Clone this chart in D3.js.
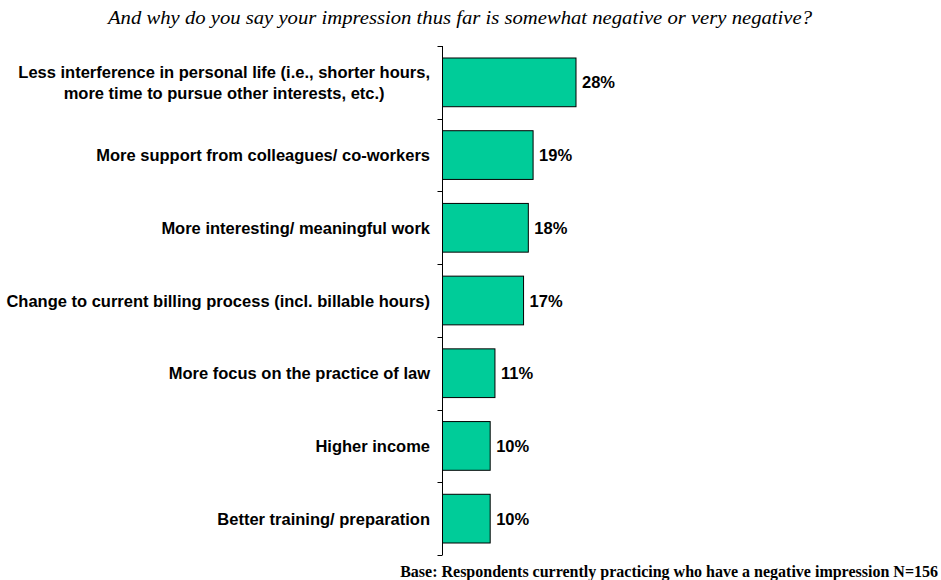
<!DOCTYPE html>
<html><head><meta charset="utf-8">
<script src="https://cdn.jsdelivr.net/npm/d3@7"></script>
<style>body{margin:0;background:#fff}svg{display:block}</style>
</head><body>
<script>
const categories = [
  ["Less interference in personal life (i.e., shorter hours,", "more time to pursue other interests, etc.)"],
  ["More support from colleagues/ co-workers"],
  ["More interesting/ meaningful work"],
  ["Change to current billing process (incl. billable hours)"],
  ["More focus on the practice of law"],
  ["Higher income"],
  ["Better training/ preparation"]
];
const values = [28, 19, 18, 17, 11, 10, 10];
const valueLabels = ["28%", "19%", "18%", "17%", "11%", "10%", "10%"];
const title = "And why do you say your impression thus far is somewhat negative or very negative?";
const footnote = "Base: Respondents currently practicing who have a negative impression N=156";

const W = 941, H = 580;
const svg = d3.select("body").append("svg").attr("width", W).attr("height", H);

const x0 = 442.5;
const x = d3.scaleLinear().domain([0, 28]).range([x0, 576]);
const y = d3.scaleBand().domain(d3.range(values.length)).range([46, 555]).paddingInner(0.33).paddingOuter(0.165);
const FS = 16.5;

svg.append("text").attr("x", 460).attr("y", 24).attr("text-anchor", "middle")
  .attr("font-family", "Liberation Serif, Times New Roman, serif").attr("font-style", "italic")
  .attr("font-size", 19).attr("textLength", 704).attr("lengthAdjust", "spacingAndGlyphs")
  .attr("fill", "#000").text(title);

svg.selectAll("rect.bar").data(values).join("rect").attr("class", "bar")
  .attr("x", x0).attr("y", (d, i) => y(i))
  .attr("width", d => x(d) - x0).attr("height", y.bandwidth())
  .attr("fill", "#00CC99").attr("stroke", "#000").attr("stroke-width", 1);

svg.selectAll("text.val").data(values).join("text").attr("class", "val")
  .attr("x", d => x(d) + 6).attr("y", (d, i) => y(i) + y.bandwidth() / 2 + 6)
  .attr("font-family", "Liberation Sans, Arial, sans-serif").attr("font-weight", "bold")
  .attr("font-size", FS).attr("fill", "#000").text((d, i) => valueLabels[i]);

// axis
const tickYs = d3.range(values.length + 1).map(i => 46 + i * (509 / values.length));
svg.append("line").attr("x1", x0).attr("x2", x0).attr("y1", 46).attr("y2", 555)
  .attr("stroke", "#000").attr("stroke-width", 1);
svg.selectAll("line.tk").data(tickYs).join("line").attr("class", "tk")
  .attr("x1", x0 - 5).attr("x2", x0).attr("y1", d => Math.round(d) + 0.5).attr("y2", d => Math.round(d) + 0.5)
  .attr("stroke", "#000").attr("stroke-width", 1);

const labelRight = 430;
categories.forEach((lines, i) => {
  const cy = y(i) + y.bandwidth() / 2;
  const g = svg.append("g");
  const lh = 20.5;
  const ts = lines.map((ln, k) => g.append("text")
    .attr("y", cy + 6 + (k - (lines.length - 1) / 2) * lh)
    .attr("font-family", "Liberation Sans, Arial, sans-serif").attr("font-weight", "bold")
    .attr("font-size", FS).attr("fill", "#000").text(ln));
  const maxW = d3.max(ts, t => t.node().getComputedTextLength());
  ts.forEach(t => t.attr("x", labelRight - maxW / 2).attr("text-anchor", "middle"));
});

svg.append("text").attr("x", 938).attr("y", 577).attr("text-anchor", "end")
  .attr("font-family", "Liberation Serif, Times New Roman, serif").attr("font-weight", "bold")
  .attr("font-size", 16).attr("fill", "#000").text(footnote);
</script>
</body></html>
